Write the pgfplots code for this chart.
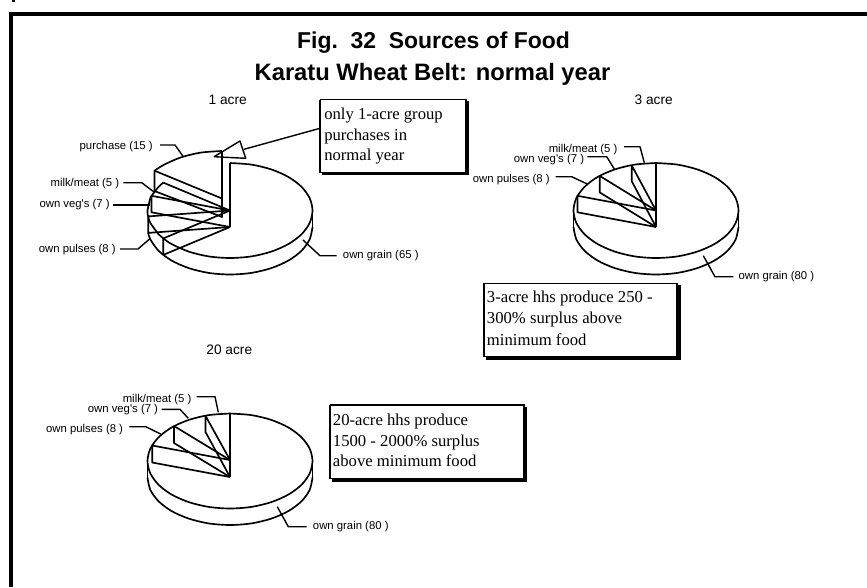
\documentclass[border=0pt]{standalone}
\usepackage{fontspec}
\usepackage{pgfplots}
\pgfplotsset{compat=1.18}
\setmainfont{Liberation Serif}
\newfontfamily\arial{Liberation Sans}

\pgfplotsset{
  pie/.style={black, line width=1.25pt, no markers, line join=round},
  arc/.style={pie, smooth},
  lead/.style={black, line width=1.05pt, no markers, line join=round},
  box/.style={black, line width=1.2pt, no markers, fill=white},
  shade/.style={black, fill=black, no markers, line width=0pt},
}
\tikzset{
  lab/.style={font=\arial\fontsize{8.5}{10}\selectfont, inner sep=0pt},
  sub/.style={font=\arial\fontsize{10.3}{12}\selectfont, inner sep=0pt},
  ttl/.style={font=\arial\bfseries\fontsize{17.2}{20}\selectfont, inner sep=0pt, anchor=base},
  ttlb/.style={font=\arial\bfseries\fontsize{17.8}{20}\selectfont, inner sep=0pt, anchor=base},
  note/.style={font=\fontsize{12.5}{14}\selectfont, inner sep=0pt, anchor=base west},
}

\begin{document}
\begin{tikzpicture}
\begin{axis}[
  width=650.25pt, height=440.25pt, scale only axis,
  xmin=0, xmax=867, ymin=0, ymax=587, y dir=reverse,
  axis lines=none,
]
% outer frame, only top and left are on the page
\addplot[black, line width=3pt, no markers] coordinates {(11,587) (11,14) (867,14)};
\addplot[black, line width=2pt, no markers] coordinates {(13.5,0) (13.5,2)};

% ---- 1 acre: top rim
\addplot[arc] coordinates {
  (230,163) (251.4,164.6) (271.3,169.4) (288.3,176.9) (301.5,186.8) (309.7,198.2)
  (312.5,210.5) (309.7,222.8) (301.5,234.3) (288.3,244.1) (271.3,251.6) (251.4,256.4)
  (230,258) (208.7,256.4) (188.8,251.6) (171.7,244.1) (163.3,238.4) (158.6,234.3)
  (150.3,222.8) (148.2,216.4) (147.5,210.5) (150.3,198.2) (151.5,195.8) (158.6,186.8)
  (163.3,182.6)};
% bottom rim
\addplot[arc] coordinates {
  (312.5,227) (309.7,239.3) (301.5,250.8) (288.3,260.6) (271.3,268.1) (251.4,272.9)
  (230,274.5) (208.7,272.9) (188.8,268.1) (171.7,260.6) (158.6,250.8) (150.3,239.3)
  (148.2,232.9)};
\addplot[pie] coordinates {(312.5,210.5) (312.5,227)};
% slices
\addplot[pie] coordinates {(230,163) (230,227)};
\addplot[pie] coordinates {(163.3,182.6) (230,210.5) (151.5,195.8) (151.5,212.3) (230,227)};
\addplot[pie] coordinates {(230,210.5) (148.2,216.4) (148.2,232.9) (230,227)};
\addplot[pie] coordinates {(230,210.5) (163.3,238.4) (163.3,254.9) (230,227)};
% purchase slice, pulled out
\addplot[arc] coordinates {(154.5,170.7) (163.7,164.9) (180.8,157.4) (200.7,152.6) (222,151)};
\addplot[pie] coordinates {(222,151) (222,217) (154.5,191) (154.5,170.7) (222,198.5)};
% labels
\addplot[lead] coordinates {(160,145) (175,145) (183.3,156.7)};
\node[lab, anchor=east] at (axis cs:153,147) {purchase (15 )};
\addplot[lead] coordinates {(123.3,182.7) (141.7,182.7) (155,192.7)};
\node[lab, anchor=east] at (axis cs:119.5,183.5) {milk/meat (5 )};
\addplot[lead] coordinates {(113,205) (150,205)};
\node[lab, anchor=east] at (axis cs:110,205) {own veg's (7 )};
\addplot[lead] coordinates {(120,249) (138,249) (150.7,238)};
\node[lab, anchor=east] at (axis cs:116,250) {own pulses (8 )};
\addplot[lead] coordinates {(303,240) (320,255.7) (336.7,255.7)};
\node[lab, anchor=west] at (axis cs:342.7,256) {own grain (65 )};
\node[sub] at (axis cs:227.7,100) {1 acre};

% callout
\addplot[lead] coordinates {(214,156.7) (240,141) (245.7,158.3) (214,156.7)};
\addplot[lead] coordinates {(244,149.3) (320,128.3)};
\addplot[shade] coordinates {(322,101) (468,101) (468,174.5) (322,174.5) (322,101)};
\addplot[box] coordinates {(320,99.5) (466,99.5) (466,172.5) (320,172.5) (320,99.5)};
\node[note] at (axis cs:324,119.3) {only 1-acre group};
\node[note] at (axis cs:324,140.7) {purchases in};
\node[note] at (axis cs:324,160.7) {normal year};

% ---- 3 acre: top rim
\addplot[arc] coordinates {
  (656,163) (677.4,164.6) (697.3,169.4) (714.3,176.9) (727.5,186.8) (735.7,198.2)
  (738.5,210.5) (735.7,222.8) (727.5,234.3) (714.3,244.1) (697.3,251.6) (677.4,256.4)
  (656,258) (634.7,256.4) (614.8,251.6) (597.7,244.1) (584.6,234.3) (576.3,222.8)
  (573.5,210.5) (576.3,198.2) (584.6,186.8) (597.7,176.9) (614.8,169.4) (634.7,164.6)
  (656,163)};
% bottom rim
\addplot[arc] coordinates {
  (738.5,227) (735.7,239.3) (727.5,250.8) (714.3,260.6) (697.3,268.1) (677.4,272.9)
  (656,274.5) (634.7,272.9) (614.8,268.1) (597.7,260.6) (584.6,250.8) (576.3,239.3)
  (573.5,227)};
\addplot[pie] coordinates {(738.5,210.5) (738.5,227)};
\addplot[pie] coordinates {(573.5,210.5) (573.5,227)};
% slices
\addplot[pie] coordinates {(656,163) (656,227)};
\addplot[pie] coordinates {(656,210.5) (577.5,195.8) (577.5,212.3) (656,227)};
\addplot[pie] coordinates {(656,210.5) (599.7,175.9) (599.7,192.4) (656,227)};
\addplot[pie] coordinates {(656,210.5) (631.8,165.6) (631.8,181.3) (656,227)};
% labels
\addplot[lead] coordinates {(624,146.7) (640,146.7) (644.3,162.7)};
\node[lab, anchor=east] at (axis cs:617.7,149.3) {milk/meat (5 )};
\addplot[lead] coordinates {(587.3,156.7) (606.7,156.7) (614.3,169)};
\node[lab, anchor=east] at (axis cs:584.3,159.3) {own veg's (7 )};
\addplot[lead] coordinates {(555.7,176.7) (571.7,176.7) (587.3,184)};
\node[lab, anchor=east] at (axis cs:550,180) {own pulses (8 )};
\addplot[lead] coordinates {(703.3,255.7) (715,276.7) (733.3,276.7)};
\node[lab, anchor=west] at (axis cs:738.3,276.7) {own grain (80 )};
\node[sub] at (axis cs:653.7,100) {3 acre};
% note
\addplot[shade] coordinates {(486,285) (680.7,285) (680.7,359.3) (486,359.3) (486,285)};
\addplot[box] coordinates {(484,283.3) (677,283.3) (677,356.5) (484,356.5) (484,283.3)};
\node[note] at (axis cs:486.7,302.7) {3-acre hhs produce 250 -};
\node[note] at (axis cs:486.7,323.3) {300\% surplus above};
\node[note] at (axis cs:486.7,345) {minimum food};

% ---- 20 acre: top rim
\addplot[arc] coordinates {
  (230,413.5) (251.4,415.1) (271.3,419.9) (288.3,427.4) (301.5,437.3) (309.7,448.7)
  (312.5,461) (309.7,473.3) (301.5,484.8) (288.3,494.6) (271.3,502.1) (251.4,506.9)
  (230,508.5) (208.7,506.9) (188.8,502.1) (171.7,494.6) (158.6,484.8) (150.3,473.3)
  (147.5,461) (150.3,448.7) (158.6,437.3) (171.7,427.4) (188.8,419.9) (208.7,415.1)
  (230,413.5)};
% bottom rim
\addplot[arc] coordinates {
  (312.5,477.5) (309.7,489.8) (301.5,501.3) (288.3,511.1) (271.3,518.6) (251.4,523.4)
  (230,525) (208.7,523.4) (188.8,518.6) (171.7,511.1) (158.6,501.3) (150.3,489.8)
  (147.5,477.5)};
\addplot[pie] coordinates {(312.5,461) (312.5,477.5)};
\addplot[pie] coordinates {(147.5,461) (147.5,477.5)};
% slices
\addplot[pie] coordinates {(230,413.5) (230,477)};
\addplot[pie] coordinates {(230,460) (152.2,445.5) (152.2,462.5) (230,477)};
\addplot[pie] coordinates {(230,460) (174,426) (174,443) (230,477)};
\addplot[pie] coordinates {(230,460) (205.5,415.8) (205.5,432) (230,477)};
% labels
\addplot[lead] coordinates {(196.7,396.7) (215,396.7) (218.3,412.3)};
\node[lab, anchor=east] at (axis cs:191.7,399.3) {milk/meat (5 )};
\addplot[lead] coordinates {(161.7,409.3) (180,409.3) (188.3,418.3)};
\node[lab, anchor=east] at (axis cs:158.3,410) {own veg's (7 )};
\addplot[lead] coordinates {(129.3,426.7) (145.7,426.7) (160.7,434)};
\node[lab, anchor=east] at (axis cs:123.3,429.3) {own pulses (8 )};
\addplot[lead] coordinates {(277.3,506.7) (288.3,526.7) (306.7,526.7)};
\node[lab, anchor=west] at (axis cs:312.7,526.7) {own grain (80 )};
\node[sub] at (axis cs:229.3,350) {20 acre};
% note
\addplot[shade] coordinates {(332,407) (526,407) (526,481) (332,481) (332,407)};
\addplot[box] coordinates {(330,405) (524,405) (524,478.5) (330,478.5) (330,405)};
\node[note] at (axis cs:332.7,425.7) {20-acre hhs produce};
\node[note] at (axis cs:332.7,446.7) {1500 - 2000\% surplus};
\node[note] at (axis cs:332.7,466.7) {above minimum food};

% title
\node[ttl] at (axis cs:433.5,48.3) {Fig.\ \ 32\ \ Sources of Food};
\node[ttlb] at (axis cs:432.5,80) {Karatu Wheat Belt: normal year};
\end{axis}
\pgfresetboundingbox
\path (0,0) rectangle (650.25pt,440.25pt);
\end{tikzpicture}
\end{document}
